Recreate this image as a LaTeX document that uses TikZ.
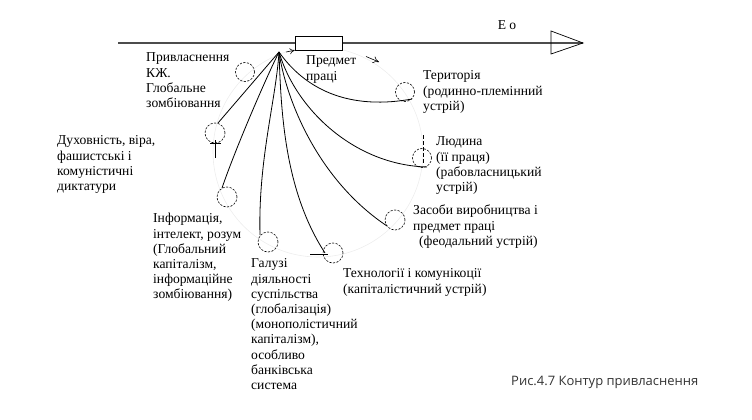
\documentclass[tikz,border=0pt]{standalone}
\usepackage{fontspec}
\setmainfont{Liberation Serif}
\newfontfamily\capfont{Open Sans}
\usetikzlibrary{arrows.meta}
\newcommand{\lbfont}{\fontsize{13.6}{15.2}\selectfont}
\tikzset{
  lbl/.style={anchor=north west, inner sep=0pt, align=left, font=\lbfont},
  dcirc/.style={circle, draw, dash pattern=on 2.2pt off 1.4pt, line width=0.6pt, minimum size=19pt, inner sep=0pt},
  fan/.style={line width=0.8pt},
  thin/.style={line width=0.6pt},
}
\begin{document}
\begin{tikzpicture}[x=1pt,y=-1pt]
\useasboundingbox (0,0) rectangle (752,420);
% faint big circle
\draw[black!7, line width=0.6pt] (318,152) circle (105);
% main axis
\coordinate (L0) at (118,43);
\coordinate (tip) at (583,43);
\draw[black!70, line width=1.3pt] (L0) -- (tip);
\draw[line width=0.7pt] (551,31) -- (tip) -- (551,54) -- cycle;
\node[font=\lbfont, inner sep=0pt] (eo) at (507,25) {Е о};
% rectangle
\node[draw, line width=0.7pt, minimum width=47pt, minimum height=14pt, inner sep=0pt, fill=white] (rect) at (318.5,43) {};
% origin
\coordinate (O) at (279,52);
\coordinate (O2) at (286,52);
\draw[thin, -{To[length=5pt,width=6pt]}] (O2) -- (rect.south west);
\coordinate (va) at (366,56.5);
\coordinate (vb) at (379,62);
\draw[thin, -{To[length=6pt,width=7pt]}] (va) -- (vb);
% dashed circles
\node[dcirc] (c1) at (245,72) {};
\node[dcirc] (c2) at (405,92) {};
\node[dcirc] (c3) at (422,158) {};
\node[dcirc, minimum size=20pt] (c4) at (395,220) {};
\node[dcirc, minimum size=20pt] (c5) at (333,253) {};
\node[dcirc, minimum size=20pt] (c6) at (268,242) {};
\node[dcirc, minimum size=20pt] (c7) at (227,197) {};
\node[dcirc, minimum size=20pt] (c8) at (215,133) {};
% end points of fan curves
\coordinate (e8) at (218,123);
\coordinate (e7) at (222,188);
\coordinate (e6) at (260,235);
\coordinate (e5) at (325,253);
\coordinate (e4) at (387,226);
\coordinate (e3) at (427,167);
\coordinate (e2) at (412,99);
% fan curves
\draw[fan] (O) -- (e8);
\draw[fan] (O) .. controls (265,80) and (235,150) .. (e7);
\draw[fan] (O) .. controls (276,100) and (258,160) .. (e6);
\draw[fan] (O) .. controls (281,110) and (284,190) .. (e5);
\draw[fan] (O) .. controls (286,100) and (318,180) .. (e4);
\draw[fan] (O) .. controls (296,110) and (355,165) .. (e3);
\draw[fan] (O) .. controls (300,82) and (340,112) .. (e2);
% tick marks
\coordinate (t1a) at (215,140); \coordinate (t1b) at (215,158);
\draw[thin] (t1a) -- (t1b);
\coordinate (t2a) at (210,143); \coordinate (t2b) at (221,143);
\draw[thin] (t2a) -- (t2b);
\coordinate (t3a) at (423,135); \coordinate (t3b) at (423,163);
\draw[thin, dash pattern=on 4pt off 2pt] (t3a) -- (t3b);
\coordinate (t4a) at (310,254); \coordinate (t4b) at (328,254);
\draw[thin] (t4a) -- (t4b);
% labels
\node[lbl] (l1) at (146,51) {\strut Привласнення\\КЖ.\\Глобальне\\зомбіювання};
\node[lbl] (l2) at (306,54) {\strut Предмет\\праці};
\node[lbl] (l3) at (423,69) {\strut Територія\\(родинно-племінний\\устрій)};
\node[lbl] (l4) at (57,134) {\strut Духовність, віра,\\фашистські і\\комуністичні\\диктатури};
\node[lbl] (l5) at (436,135) {\strut Людина\\(її праця)\\(рабовласницький\\устрій)};
\node[lbl] (l6) at (413,204) {\strut Засоби виробництва і\\предмет праці\\\hspace*{6pt}(феодальний устрій)};
\node[lbl] (l7) at (153,212) {\strut Інформація,\\інтелект, розум\\(Глобальний\\капіталізм,\\інформаційне\\зомбіювання)};
\node[lbl] (l8) at (251,257) {\strut Галузі\\діяльності\\суспільства\\(глобалізація)\\(монополістичний\\капіталізм),\\особливо\\банківська\\система};
\node[lbl] (l9) at (343,267) {\strut Технології і комунікоції\\(капіталістичний устрій)};
\node[anchor=west, inner sep=0pt, font=\capfont\fontsize{13}{15}\selectfont, text=black!80] (cap) at (511,382) {Рис.4.7 Контур привласнення};
\end{tikzpicture}
\end{document}
